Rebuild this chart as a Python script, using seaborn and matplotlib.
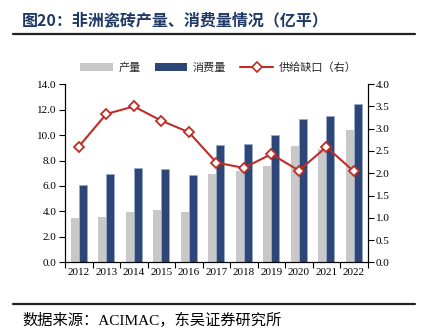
import matplotlib
matplotlib.use("Agg")
import matplotlib.pyplot as plt
import seaborn as sns
import numpy as np
import pandas as pd
from matplotlib.lines import Line2D
from matplotlib.patches import Patch
from matplotlib.ticker import MultipleLocator, FormatStrFormatter, FixedLocator

years = ["2012", "2013", "2014", "2015", "2016", "2017", "2018", "2019", "2020", "2021", "2022"]
production = [3.5, 3.6, 3.96, 4.12, 3.96, 6.95, 7.18, 7.58, 9.18, 8.89, 10.36]
consumption = [6.08, 6.92, 7.45, 7.31, 6.90, 9.20, 9.31, 10.02, 11.25, 11.48, 12.43]
gap = [2.60, 3.33, 3.50, 3.18, 2.92, 2.24, 2.12, 2.43, 2.06, 2.59, 2.04]
series_names = ["产量", "消费量", "供给缺口（右）"]
title_text = "图20：非洲瓷砖产量、消费量情况（亿平）"
source_text = "数据来源：ACIMAC，东吴证券研究所"

sns.set_theme(style="white")
plt.rcParams['font.family'] = ['Liberation Serif', 'Noto Sans CJK SC', 'DejaVu Sans']
plt.rcParams['axes.unicode_minus'] = False

GRAY = "#C8C8C8"
BLUE = "#2B4677"
RED = "#BE2D26"
NAVY = "#1F3864"
CJK = ['Noto Sans CJK SC', 'DejaVu Sans']
SERIF_CJK = ['Liberation Serif', 'Noto Sans CJK SC', 'DejaVu Sans']

df = pd.DataFrame({
    "year": years * 2,
    "value": production + consumption,
    "series": [series_names[0]] * len(years) + [series_names[1]] * len(years),
})

fig = plt.figure(figsize=(4.28, 3.30), dpi=100)
ax = fig.add_axes([0.152, 0.205, 0.707, 0.540])

sns.barplot(data=df, x="year", y="value", hue="series", order=years,
            hue_order=series_names[:2], palette=[GRAY, BLUE], width=0.58,
            saturation=1, ax=ax, legend=False, linewidth=0)
for p in ax.patches:
    fc = p.get_facecolor()
    if abs(fc[2] - 0x77 / 255) < 0.05:
        p.set_edgecolor("#9AAAC8")
        p.set_linewidth(0.6)

ax.set_ylim(0, 14)
ax.set_xlim(-0.5, len(years) - 0.5)
ax.yaxis.set_major_locator(MultipleLocator(2))
ax.yaxis.set_major_formatter(FormatStrFormatter("%.1f"))
ax.set_xlabel("")
ax.set_ylabel("")

ax2 = ax.twinx()
sns.pointplot(x=years, y=gap, ax=ax2, color=RED, markers="D", linestyles="-",
              markersize=5.5, linewidth=1.5, markerfacecolor="white",
              markeredgecolor=RED, markeredgewidth=1.3)
ax2.set_ylim(0, 4)
ax2.yaxis.set_major_locator(MultipleLocator(0.5))
ax2.yaxis.set_major_formatter(FormatStrFormatter("%.1f"))
ax2.set_xlim(-0.5, len(years) - 0.5)
ax2.set_ylabel("")

for a in (ax, ax2):
    a.spines["top"].set_visible(False)
    for s in ("left", "right", "bottom"):
        a.spines[s].set_color("black")
        a.spines[s].set_linewidth(0.8)
    a.grid(False)

ax.tick_params(axis="y", direction="out", length=4, width=0.8, color="black",
               labelsize=8, pad=2, left=True)
ax2.tick_params(axis="y", direction="out", length=4, width=0.8, color="black",
                labelsize=8, pad=2, right=True)
ax.set_xticks(range(len(years)))
ax.set_xticklabels(years)
ax.tick_params(axis="x", which="major", length=0, labelsize=8, pad=4)
ax.xaxis.set_minor_locator(FixedLocator(np.arange(-0.5, len(years), 1.0)))
ax.tick_params(axis="x", which="minor", direction="out", length=4, width=0.8,
               color="black", bottom=True)
for lab in ax.get_xticklabels() + ax.get_yticklabels() + ax2.get_yticklabels():
    lab.set_family("Liberation Serif")
    lab.set_color("black")

handles = [Patch(facecolor=GRAY, edgecolor="none"),
           Patch(facecolor=BLUE, edgecolor="none"),
           Line2D([0], [0], color=RED, lw=1.5, marker="D", markersize=5,
                  markerfacecolor="white", markeredgecolor=RED, markeredgewidth=1.2)]
leg = fig.legend(handles, series_names, loc="center", bbox_to_anchor=(0.51, 0.795),
                 ncol=3, frameon=False, prop={"family": CJK, "size": 8},
                 handlelength=2.9, handleheight=0.6, columnspacing=1.3,
                 handletextpad=0.5)

fig.text(0.052, 0.938, title_text, fontsize=11.5, fontweight="bold", color=NAVY,
         family=CJK, va="center", ha="left")
fig.add_artist(Line2D([0.030, 0.970], [0.896, 0.896], color="#222222", lw=1.6))
fig.add_artist(Line2D([0.030, 0.970], [0.079, 0.079], color="#222222", lw=1.6))
fig.text(0.052, 0.030, source_text, fontsize=11, color="black",
         family=SERIF_CJK, va="center", ha="left")

fig.savefig("out.png", dpi=100)
